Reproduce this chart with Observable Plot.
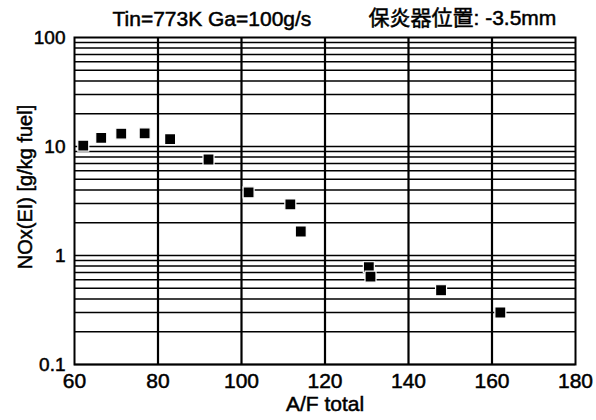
<!DOCTYPE html>
<html>
<head>
<meta charset="utf-8">
<script src="https://cdn.jsdelivr.net/npm/d3@7"></script>
<script src="https://cdn.jsdelivr.net/npm/@observablehq/plot@0.6"></script>
<style>
  html, body { margin: 0; padding: 0; background: #fff; }
  #chart svg text { stroke: #000; stroke-width: 0.5px; }
</style>
</head>
<body>
<div id="chart"></div>
<script>
// A/F total (x) and NOx(EI) [g/kg fuel] (y)
const afTotal = [62.1, 66.4, 71.2, 76.8, 82.9, 92.1, 101.7, 111.7, 114.2, 130.5, 130.9, 147.8, 162.0];
const noxEI   = [10.2, 12.0, 13.1, 13.2, 11.7, 7.6, 3.8, 2.94, 1.66, 0.78, 0.64, 0.48, 0.30];

const xTicks = [60, 80, 100, 120, 140, 160, 180];
const yTicks = [0.1, 1, 10, 100];
const xGrid = [80, 100, 120, 140, 160];
const yGrid = [];
for (const e of [0.1, 1, 10]) for (let k = 1; k <= 9; k++) yGrid.push(+(k * e).toPrecision(3));

const titleLeft = "Tin=773K Ga=100g/s";
const titleRight = "保炎器位置: -3.5mm";
const xLabel = "A/F total";
const yLabel = "NOx(EI) [g/kg fuel]";

const data = afTotal.map((x, i) => ({x, y: noxEI[i]}));
const FONT = "'Liberation Sans', Arial, 'Noto Sans CJK JP', sans-serif";

const chart = Plot.plot({
  width: 596,
  height: 420,
  marginLeft: 74,
  marginRight: 21,
  marginTop: 37,
  marginBottom: 56,
  style: {fontFamily: FONT, background: "#fff", color: "#000"},
  x: {type: "linear", domain: [60, 180]},
  y: {type: "log", domain: [0.1, 100]},
  marks: [
    Plot.ruleY(yGrid, {stroke: "#000", strokeWidth: 1.5}),
    Plot.ruleX(xGrid, {stroke: "#000", strokeWidth: 2.2}),
    Plot.frame({stroke: "#000", strokeWidth: 2}),
    Plot.dot(data, {x: "x", y: "y", symbol: "square", r: 6.2, fill: "#000", stroke: "#fff", strokeWidth: 1.2}),
    Plot.axisX({ticks: xTicks, tickSize: 0, tickPadding: 9, fontSize: 21, label: null, tickFormat: d => String(d)}),
    Plot.axisY({ticks: yTicks, tickSize: 0, tickPadding: 9, fontSize: 19, label: null, tickFormat: d => String(d)}),
    Plot.text([xLabel], {frameAnchor: "bottom", dy: 40, lineAnchor: "middle", fontSize: 21, text: d => d, fill: "#000"}),
    Plot.text([yLabel], {frameAnchor: "left", textAnchor: "middle", rotate: -90, dx: -49, dy: -14, lineAnchor: "middle", fontSize: 20, text: d => d, fill: "#000"}),
    Plot.text([titleLeft], {frameAnchor: "top-left", textAnchor: "start", lineAnchor: "middle", dx: 38, dy: -18, fontSize: 21, text: d => d, fill: "#000"}),
    Plot.text([titleRight], {frameAnchor: "top-left", textAnchor: "start", lineAnchor: "middle", dx: 294, dy: -19, fontSize: 21, text: d => d, fill: "#000"})
  ]
});
document.getElementById("chart").appendChild(chart);
</script>
</body>
</html>
